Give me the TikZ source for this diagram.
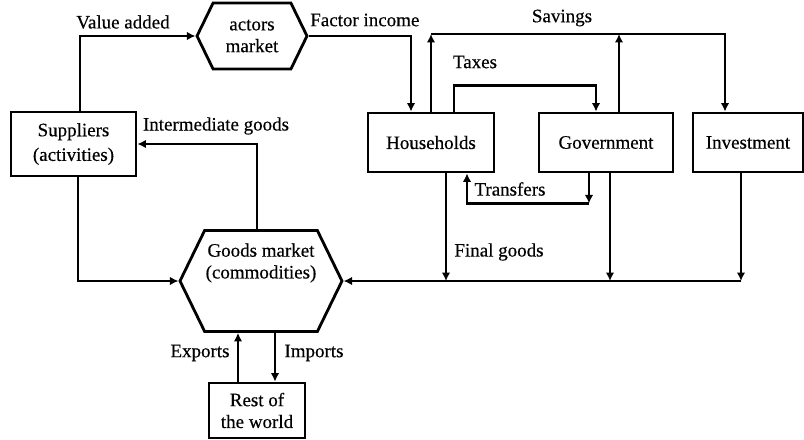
\documentclass[tikz,border=0pt]{standalone}
\usepackage{fontspec}
\setmainfont{Liberation Serif}
\newfontfamily\lblfont[FakeBold=0.4]{Liberation Serif}
\usetikzlibrary{arrows.meta,shapes.symbols}
\newlength\pxu
\setlength\pxu{0.025cm}
\tikzset{
	txt/.style={font=\lblfont\fontsize{13.5}{15.5}\selectfont, align=center, inner sep=0pt},
	box/.style={txt, draw, line width=2pt},
	market/.style={box, signal, signal to=west and east, signal pointer angle=128},
	flow/.style={line width=2pt, -{Latex[length=6pt,width=6pt]}}
}
\begin{document}
\begin{tikzpicture}[x=\pxu,y=-\pxu]
			\useasboundingbox (0,0) rectangle (804,440);
			% blocks
			\node[market, minimum width=110\pxu, minimum height=66\pxu] (factors) at (252,36) {actors\\market};
			\node[box, minimum width=125\pxu, minimum height=64\pxu] (suppliers) at (73.5,144) {Suppliers\\[2pt](activities)};
			\node[market, minimum width=162\pxu, minimum height=101\pxu] (goods) at (261,281) {};
			\node[txt] (goodstxt) at (261,263) {Goods market\\(commodities)};
			\node[box, minimum width=96\pxu, minimum height=55\pxu] (row) at (257,410.5) {Rest of\\the world};
			\node[box, minimum width=126\pxu, minimum height=59\pxu] (households) at (431,142.5) {Households};
			\node[box, minimum width=134\pxu, minimum height=59\pxu] (government) at (606,142.5) {Government};
			\node[box, minimum width=110\pxu, minimum height=59\pxu] (investment) at (748,142.5) {Investment};
			\coordinate (savings) at (725,34);
			\coordinate (trf) at ([xshift=-17\pxu,yshift=-30\pxu]government.south);
			% flows
			\draw[flow] ([xshift=6.5\pxu]suppliers.north) |- (factors.west);
			\draw[flow] (factors.east) -| ([xshift=-20\pxu]households.north);
			\draw[flow] (households.north) -- (households.north |- savings);
			\draw[flow] ([xshift=13\pxu]government.north) -- ([xshift=13\pxu]government.north |- savings);
			\draw[flow] (households.north |- savings) -| ([xshift=-23\pxu]investment.north);
			\draw[flow] ([xshift=23\pxu]households.north) -- ++(0,-26) -| ([xshift=-10\pxu]government.north);
			\draw[flow] ([xshift=-17\pxu]government.south) -- (trf);
			\draw[flow] (trf) -| ([xshift=36\pxu]households.south);
			\draw[flow] ([xshift=15\pxu]households.south) -- ([xshift=15\pxu]households.south |- goods.east);
			\draw[flow] ([xshift=4\pxu]government.south) -- ([xshift=4\pxu]government.south |- goods.east);
			\draw[flow] ([xshift=-7\pxu]investment.south) -- ([xshift=-7\pxu]investment.south |- goods.east);
			\draw[flow] ([xshift=-7\pxu]investment.south |- goods.east) -- (goods.east);
			\draw[flow] ([xshift=4.5\pxu]suppliers.south) |- (goods.west);
			\draw[flow] ([xshift=-4\pxu]goods.north) |- (suppliers.east);
			\draw[flow] ([xshift=-19\pxu]row.north) -- ([xshift=-19\pxu]row.north |- goods.south);
			\draw[flow] ([xshift=18\pxu]row.north |- goods.south) -- ([xshift=18\pxu]row.north);
			% labels
			\node[txt] (lva) at (123,22) {Value added};
			\node[txt, anchor=west] (lfi) at (310,20) {Factor income};
			\node[txt] (lsav) at (562,18) {Savings};
			\node[txt] (ltax) at (475,62) {Taxes};
			\node[txt] (lint) at (216,126) {Intermediate goods};
			\node[txt] (ltrf) at (510,189) {Transfers};
			\node[txt] (lfin) at (499,252) {Final goods};
			\node[txt] (lexp) at (200,353) {Exports};
			\node[txt] (limp) at (314,353) {Imports};
		\end{tikzpicture}
\end{document}
